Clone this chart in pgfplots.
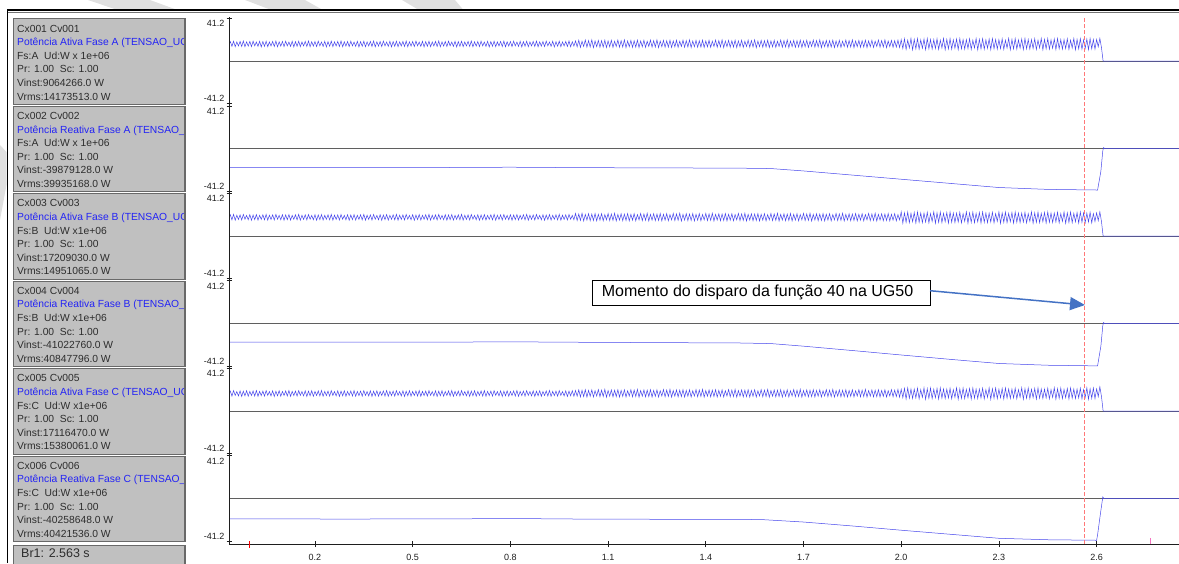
\documentclass[border=0pt]{standalone}
\usepackage{fontspec}
\setmainfont{Liberation Sans}
\usepackage{pgfplots}
\usepackage{pgfplotstable}
\pgfplotsset{compat=1.18}
\usetikzlibrary{arrows.meta}

\definecolor{trc}{RGB}{70,70,235}
\definecolor{zlc}{RGB}{95,95,95}
\definecolor{axcol}{RGB}{30,30,30}
\definecolor{boxgray}{RGB}{192,192,192}
\definecolor{boxdark}{RGB}{105,105,105}
\definecolor{bluetxt}{RGB}{35,35,245}
\definecolor{txtc}{RGB}{45,45,45}
\definecolor{reddash}{RGB}{255,120,120}
\definecolor{arrowc}{RGB}{68,114,196}
\definecolor{wm}{RGB}{224,224,224}

% time in ms; active power (MW) of phases A, B, C
\pgfplotstableread{
t a b c
-64 16.0 17.5 16.3
-60 18.9 20.6 19.3
-55 14.4 15.7 14.4
-50 19.3 21.0 19.7
-45 14.0 15.4 15.1
-40 18.6 20.2 18.8
-35 14.7 16.1 14.6
-30 19.1 20.5 19.5
-25 14.2 15.6 14.1
-20 19.5 20.9 19.2
-15 13.9 16.3 14.7
-10 18.7 20.0 19.6
-5 14.6 15.8 14.3
0 19.0 20.7 18.9
5 14.1 15.3 15.0
10 19.4 20.4 19.4
15 14.8 15.9 14.5
20 18.5 20.8 19.8
25 14.3 15.5 14.2
30 19.2 20.1 19.0
35 13.8 16.2 14.9
40 18.9 20.6 19.3
45 14.4 15.7 14.4
50 19.3 21.0 19.7
55 14.0 15.4 15.1
60 18.6 20.2 18.8
65 14.7 16.1 14.6
70 19.1 20.5 19.5
75 14.2 15.6 14.1
80 19.5 20.9 19.2
85 13.9 16.3 14.7
90 18.7 20.0 19.6
95 14.6 15.8 14.3
100 19.0 20.7 18.9
105 14.1 15.3 15.0
110 19.4 20.4 19.4
115 14.8 15.9 14.5
120 18.5 20.8 19.8
125 14.3 15.5 14.2
130 19.2 20.1 19.0
135 13.8 16.2 14.9
140 18.9 20.6 19.3
145 14.4 15.7 14.4
150 19.3 21.0 19.7
155 14.0 15.4 15.1
160 18.6 20.2 18.8
165 14.7 16.1 14.6
170 19.1 20.5 19.5
175 14.2 15.6 14.1
180 19.5 20.9 19.2
185 13.9 16.3 14.7
190 18.7 20.0 19.6
195 14.6 15.8 14.3
200 19.0 20.7 18.9
205 14.1 15.3 15.0
210 19.4 20.4 19.4
215 14.8 15.9 14.5
220 18.5 20.8 19.8
225 14.3 15.5 14.2
230 19.2 20.1 19.0
235 13.8 16.2 14.9
240 18.9 20.6 19.3
245 14.4 15.7 14.4
250 19.3 21.0 19.7
255 14.0 15.4 15.1
260 18.6 20.2 18.8
265 14.7 16.1 14.6
270 19.1 20.5 19.5
275 14.2 15.6 14.1
280 19.5 20.9 19.2
285 13.9 16.3 14.7
290 18.7 20.0 19.6
295 14.6 15.8 14.3
300 19.0 20.7 18.9
305 14.1 15.3 15.0
310 19.4 20.4 19.4
315 14.8 15.9 14.5
320 18.5 20.8 19.8
325 14.3 15.5 14.2
330 19.2 20.1 19.0
335 13.8 16.2 14.9
340 18.9 20.6 19.3
345 14.4 15.7 14.4
350 19.3 21.0 19.7
355 14.0 15.4 15.1
360 18.6 20.2 18.8
365 14.7 16.1 14.6
370 19.1 20.5 19.5
375 14.2 15.6 14.1
380 19.5 20.9 19.2
385 13.9 16.3 14.7
390 18.7 20.0 19.6
395 14.6 15.8 14.3
400 19.0 20.7 18.9
405 14.1 15.3 15.0
410 19.4 20.4 19.4
415 14.8 15.9 14.5
420 18.5 20.8 19.8
425 14.3 15.5 14.2
430 19.2 20.1 19.0
435 13.8 16.2 14.9
440 18.9 20.6 19.3
445 14.4 15.7 14.4
450 19.3 21.0 19.7
455 14.0 15.4 15.1
460 18.6 20.2 18.8
465 14.7 16.1 14.6
470 19.1 20.5 19.5
475 14.2 15.6 14.1
480 19.5 20.9 19.2
485 13.9 16.3 14.7
490 18.7 20.0 19.6
495 14.6 15.8 14.3
500 19.0 20.7 18.9
505 14.1 15.3 15.0
510 19.4 20.4 19.4
515 14.8 15.9 14.5
520 18.5 20.8 19.8
525 14.3 15.5 14.2
530 19.2 20.1 19.0
535 13.8 16.2 14.9
540 18.9 20.6 19.3
545 14.4 15.7 14.4
550 19.3 21.0 19.7
555 14.0 15.4 15.1
560 18.6 20.2 18.8
565 14.7 16.1 14.6
570 19.1 20.5 19.5
575 14.2 15.6 14.1
580 19.5 20.9 19.2
585 13.9 16.3 14.7
590 18.7 20.0 19.6
595 14.6 15.8 14.3
600 19.0 20.7 18.9
605 14.1 15.3 15.0
610 19.4 20.4 19.4
615 14.8 15.9 14.5
620 18.5 20.8 19.8
625 14.3 15.5 14.2
630 19.2 20.1 19.0
635 13.8 16.2 14.9
640 18.9 20.6 19.3
645 14.4 15.7 14.4
650 19.3 21.0 19.7
655 14.0 15.4 15.1
660 18.6 20.2 18.8
665 14.7 16.1 14.6
670 19.1 20.5 19.5
675 14.2 15.6 14.1
680 19.5 20.9 19.2
685 13.9 16.3 14.7
690 18.7 20.0 19.6
695 14.6 15.8 14.3
700 19.0 20.7 18.9
705 14.1 15.3 15.0
710 19.4 20.4 19.4
715 14.8 15.9 14.5
720 18.5 20.8 19.8
725 14.3 15.5 14.2
730 19.2 20.1 19.0
735 13.8 16.2 14.9
740 18.9 20.6 19.3
745 14.4 15.7 14.4
750 19.3 21.0 19.7
755 14.0 15.4 15.1
760 18.6 20.2 18.8
765 14.7 16.1 14.6
770 19.1 20.5 19.5
775 14.2 15.6 14.1
780 19.5 20.9 19.2
785 13.9 16.3 14.7
790 18.7 20.0 19.6
795 14.6 15.8 14.3
800 19.0 20.7 18.9
805 14.1 15.3 15.0
810 19.4 20.4 19.4
815 14.8 15.9 14.5
820 18.5 20.8 19.8
825 14.3 15.5 14.2
830 19.2 20.1 19.0
835 13.8 16.2 14.9
840 18.9 20.6 19.3
845 14.4 15.7 14.4
850 19.3 21.0 19.7
855 14.0 15.4 15.1
860 18.6 20.2 18.8
865 14.7 16.1 14.6
870 19.1 20.5 19.5
875 14.2 15.6 14.1
880 19.5 20.9 19.2
885 13.9 16.3 14.7
890 18.7 20.0 19.6
895 14.6 15.8 14.3
900 19.0 20.7 18.9
905 14.1 15.3 15.0
910 19.4 20.4 19.4
915 14.8 15.9 14.5
920 18.5 20.8 19.8
925 14.3 15.5 14.2
930 19.2 20.1 19.0
935 13.8 16.2 14.9
940 18.9 20.6 19.3
945 14.4 15.7 14.4
950 19.3 21.0 19.7
955 14.0 15.4 15.1
960 18.6 20.2 18.8
965 14.7 16.1 14.6
970 19.1 20.5 19.5
975 14.2 15.6 14.1
980 19.5 20.9 19.2
985 13.9 16.3 14.7
990 18.7 20.0 19.6
995 14.6 15.8 14.3
1000 19.6 21.9 19.8
1005 13.9 15.0 14.3
1010 20.2 21.4 20.4
1015 13.3 15.2 13.7
1020 19.3 22.1 20.1
1025 14.2 14.6 13.9
1030 20.4 21.0 20.6
1035 13.5 15.5 13.5
1040 19.9 21.6 19.9
1045 13.7 14.9 14.2
1050 20.6 21.3 20.5
1055 13.1 15.1 13.6
1060 19.5 21.8 19.6
1065 14.0 14.7 14.5
1070 20.1 21.1 20.7
1075 13.4 15.4 13.8
1080 19.8 21.7 20.2
1085 13.6 14.8 14.0
1090 20.3 20.8 20.9
1095 13.2 15.7 13.4
1100 19.6 21.9 19.8
1105 13.9 15.0 14.3
1110 20.2 21.4 20.4
1115 13.3 15.2 13.7
1120 19.3 22.1 20.1
1125 14.2 14.6 13.9
1130 20.4 21.0 20.6
1135 13.5 15.5 13.5
1140 19.9 21.6 19.9
1145 13.7 14.9 14.2
1150 20.6 21.3 20.5
1155 13.1 15.1 13.6
1160 19.5 21.8 19.6
1165 14.0 14.7 14.5
1170 20.1 21.1 20.7
1175 13.4 15.4 13.8
1180 19.8 21.7 20.2
1185 13.6 14.8 14.0
1190 20.3 20.8 20.9
1195 13.2 15.7 13.4
1200 19.6 21.9 19.8
1205 13.9 15.0 14.3
1210 20.2 21.4 20.4
1215 13.3 15.2 13.7
1220 19.3 22.1 20.1
1225 14.2 14.6 13.9
1230 20.4 21.0 20.6
1235 13.5 15.5 13.5
1240 19.9 21.6 19.9
1245 13.7 14.9 14.2
1250 20.6 21.3 20.5
1255 13.1 15.1 13.6
1260 19.5 21.8 19.6
1265 14.0 14.7 14.5
1270 20.1 21.1 20.7
1275 13.4 15.4 13.8
1280 19.8 21.7 20.2
1285 13.6 14.8 14.0
1290 20.3 20.8 20.9
1295 13.2 15.7 13.4
1300 19.6 21.9 19.8
1305 13.9 15.0 14.3
1310 20.2 21.4 20.4
1315 13.3 15.2 13.7
1320 19.3 22.1 20.1
1325 14.2 14.6 13.9
1330 20.4 21.0 20.6
1335 13.5 15.5 13.5
1340 19.9 21.6 19.9
1345 13.7 14.9 14.2
1350 20.6 21.3 20.5
1355 13.1 15.1 13.6
1360 19.5 21.8 19.6
1365 14.0 14.7 14.5
1370 20.1 21.1 20.7
1375 13.4 15.4 13.8
1380 19.8 21.7 20.2
1385 13.6 14.8 14.0
1390 20.3 20.8 20.9
1395 13.2 15.7 13.4
1400 19.6 21.9 19.8
1405 13.9 15.0 14.3
1410 20.2 21.4 20.4
1415 13.3 15.2 13.7
1420 19.3 22.1 20.1
1425 14.2 14.6 13.9
1430 20.4 21.0 20.6
1435 13.5 15.5 13.5
1440 19.9 21.6 19.9
1445 13.7 14.9 14.2
1450 20.6 21.3 20.5
1455 13.1 15.1 13.6
1460 19.5 21.8 19.6
1465 14.0 14.7 14.5
1470 20.1 21.1 20.7
1475 13.4 15.4 13.8
1480 19.8 21.7 20.2
1485 13.6 14.8 14.0
1490 20.3 20.8 20.9
1495 13.2 15.7 13.4
1500 19.6 21.9 19.8
1505 13.9 15.0 14.3
1510 20.2 21.4 20.4
1515 13.3 15.2 13.7
1520 19.3 22.1 20.1
1525 14.2 14.6 13.9
1530 20.4 21.0 20.6
1535 13.5 15.5 13.5
1540 19.9 21.6 19.9
1545 13.7 14.9 14.2
1550 20.6 21.3 20.5
1555 13.1 15.1 13.6
1560 19.5 21.8 19.6
1565 14.0 14.7 14.5
1570 20.1 21.1 20.7
1575 13.4 15.4 13.8
1580 19.8 21.7 20.2
1585 13.6 14.8 14.0
1590 20.3 20.8 20.9
1595 13.2 15.7 13.4
1600 19.6 21.9 19.8
1605 13.9 15.0 14.3
1610 20.2 21.4 20.4
1615 13.3 15.2 13.7
1620 19.3 22.1 20.1
1625 14.2 14.6 13.9
1630 20.4 21.0 20.6
1635 13.5 15.5 13.5
1640 19.9 21.6 19.9
1645 13.7 14.9 14.2
1650 20.6 21.3 20.5
1655 13.1 15.1 13.6
1660 19.5 21.8 19.6
1665 14.0 14.7 14.5
1670 20.1 21.1 20.7
1675 13.4 15.4 13.8
1680 19.8 21.7 20.2
1685 13.6 14.8 14.0
1690 20.3 20.8 20.9
1695 13.2 15.7 13.4
1700 19.6 21.9 19.8
1705 13.9 15.0 14.3
1710 20.2 21.4 20.4
1715 13.3 15.2 13.7
1720 19.3 22.1 20.1
1725 14.2 14.6 13.9
1730 20.4 21.0 20.6
1735 13.5 15.5 13.5
1740 19.9 21.6 19.9
1745 13.7 14.9 14.2
1750 20.6 21.3 20.5
1755 13.1 15.1 13.6
1760 19.5 21.8 19.6
1765 14.0 14.7 14.5
1770 20.1 21.1 20.7
1775 13.4 15.4 13.8
1780 19.8 21.7 20.2
1785 13.6 14.8 14.0
1790 20.3 20.8 20.9
1795 13.2 15.7 13.4
1800 19.6 21.9 19.8
1805 13.9 15.0 14.3
1810 20.2 21.4 20.4
1815 13.3 15.2 13.7
1820 19.3 22.1 20.1
1825 14.2 14.6 13.9
1830 20.4 21.0 20.6
1835 13.5 15.5 13.5
1840 19.9 21.6 19.9
1845 13.7 14.9 14.2
1850 20.6 21.3 20.5
1855 13.1 15.1 13.6
1860 19.5 21.8 19.6
1865 14.0 14.7 14.5
1870 20.1 21.1 20.7
1875 13.4 15.4 13.8
1880 19.8 21.7 20.2
1885 13.6 14.8 14.0
1890 20.3 20.8 20.9
1895 13.2 15.7 13.4
1900 19.6 21.9 19.8
1905 13.9 15.0 14.3
1910 20.2 21.4 20.4
1915 13.3 15.2 13.7
1920 19.3 22.1 20.1
1925 14.2 14.6 13.9
1930 20.4 21.0 20.6
1935 13.5 15.5 13.5
1940 19.9 21.6 19.9
1945 13.7 14.9 14.2
1950 20.6 21.3 20.5
1955 13.1 15.1 13.6
1960 19.5 21.8 19.6
1965 14.0 14.7 14.5
1970 20.1 21.1 20.7
1975 13.4 15.4 13.8
1980 19.8 21.7 20.2
1985 13.6 14.8 14.0
1990 20.3 20.8 20.9
1995 13.2 15.7 13.4
2000 20.8 23.4 21.0
2005 12.2 12.4 12.9
2010 21.6 22.5 21.8
2015 11.4 13.3 11.6
2020 20.3 23.2 22.3
2025 12.8 13.0 12.4
2030 22.0 22.0 21.3
2035 11.0 13.9 12.1
2040 21.1 22.8 21.2
2045 11.9 12.6 12.6
2050 21.8 23.3 22.0
2055 11.6 13.4 11.8
2060 20.6 22.3 20.7
2065 12.5 13.1 13.2
2070 21.4 22.2 22.4
2075 11.2 13.6 11.4
2080 21.9 23.0 21.5
2085 12.0 12.8 12.3
2090 20.9 21.7 22.2
2095 11.7 14.2 12.0
2100 20.8 23.4 21.0
2105 12.2 12.4 12.9
2110 21.6 22.5 21.8
2115 11.4 13.3 11.6
2120 20.3 23.2 22.3
2125 12.8 13.0 12.4
2130 22.0 22.0 21.3
2135 11.0 13.9 12.1
2140 21.1 22.8 21.2
2145 11.9 12.6 12.6
2150 21.8 23.3 22.0
2155 11.6 13.4 11.8
2160 20.6 22.3 20.7
2165 12.5 13.1 13.2
2170 21.4 22.2 22.4
2175 11.2 13.6 11.4
2180 21.9 23.0 21.5
2185 12.0 12.8 12.3
2190 20.9 21.7 22.2
2195 11.7 14.2 12.0
2200 20.8 23.4 21.0
2205 12.2 12.4 12.9
2210 21.6 22.5 21.8
2215 11.4 13.3 11.6
2220 20.3 23.2 22.3
2225 12.8 13.0 12.4
2230 22.0 22.0 21.3
2235 11.0 13.9 12.1
2240 21.1 22.8 21.2
2245 11.9 12.6 12.6
2250 21.8 23.3 22.0
2255 11.6 13.4 11.8
2260 20.6 22.3 20.7
2265 12.5 13.1 13.2
2270 21.4 22.2 22.4
2275 11.2 13.6 11.4
2280 21.9 23.0 21.5
2285 12.0 12.8 12.3
2290 20.9 21.7 22.2
2295 11.7 14.2 12.0
2300 20.8 23.4 21.0
2305 12.2 12.4 12.9
2310 21.6 22.5 21.8
2315 11.4 13.3 11.6
2320 20.3 23.2 22.3
2325 12.8 13.0 12.4
2330 22.0 22.0 21.3
2335 11.0 13.9 12.1
2340 21.1 22.8 21.2
2345 11.9 12.6 12.6
2350 21.8 23.3 22.0
2355 11.6 13.4 11.8
2360 20.6 22.3 20.7
2365 12.5 13.1 13.2
2370 21.4 22.2 22.4
2375 11.2 13.6 11.4
2380 21.9 23.0 21.5
2385 12.0 12.8 12.3
2390 20.9 21.7 22.2
2395 11.7 14.2 12.0
2400 20.8 23.4 21.0
2405 12.2 12.4 12.9
2410 21.6 22.5 21.8
2415 11.4 13.3 11.6
2420 20.3 23.2 22.3
2425 12.8 13.0 12.4
2430 22.0 22.0 21.3
2435 11.0 13.9 12.1
2440 21.1 22.8 21.2
2445 11.9 12.6 12.6
2450 21.8 23.3 22.0
2455 11.6 13.4 11.8
2460 20.6 22.3 20.7
2465 12.5 13.1 13.2
2470 21.4 22.2 22.4
2475 11.2 13.6 11.4
2480 21.9 23.0 21.5
2485 12.0 12.8 12.3
2490 20.9 21.7 22.2
2495 11.7 14.2 12.0
2500 20.8 23.4 21.0
2505 12.2 12.4 12.9
2510 21.6 22.5 21.8
2515 11.4 13.3 11.6
2520 20.3 23.2 22.3
2525 12.8 13.0 12.4
2530 22.0 22.0 21.3
2535 11.0 13.9 12.1
2540 21.1 22.8 21.2
2545 11.9 12.6 12.6
2550 21.8 23.3 22.0
2555 11.6 13.4 11.8
2560 20.6 22.3 20.7
2565 12.5 13.1 13.2
2570 21.4 22.2 22.4
2575 11.2 13.6 11.4
2580 21.9 23.0 21.5
2585 12.0 12.8 12.3
2590 20.9 21.7 22.2
2595 11.7 14.2 12.0
2600 21.0 22.4 21.4
2605 14.0 15.0 14.0
2610 22.0 23.5 23.4
2615 13.0 14.0 14.0
2620 0 0 0
2853 0 0 0
}\act

\pgfplotsset{
  chan/.style={scale only axis, width=950pt, height=87.46pt,
    xmin=-64, xmax=2853, ymin=-42.2, ymax=42.2,
    axis x line=none, axis y line=left,
    axis line style={-, draw=axcol, line width=0.8pt},
    ytick={-41.2,41.2}, yticklabels={{},{}},
    tick align=center, major tick length=5pt,
    tick style={axcol, line width=0.8pt},
    clip mode=individual, anchor=north west},
  zl/.style={zlc, line width=0.8pt, mark=none},
  tr/.style={trc, line width=0.5pt, mark=none},
}
\newcommand{\ylabs}{%
  \node[anchor=north east, inner sep=0pt, font=\fontsize{9}{10}\selectfont, text=axcol]
    at ([xshift=-4.5pt,yshift=-2pt]axis cs:-64,41.2) {41.2};
  \node[anchor=south east, inner sep=0pt, font=\fontsize{9}{10}\selectfont, text=axcol]
    at ([xshift=-4.5pt,yshift=1.8pt]axis cs:-64,-41.2) {-41.2};
}
\tikzset{txt/.style={anchor=base west, inner sep=0pt, font=\fontsize{10.3}{12}\selectfont, text=txtc}}
\newcommand{\chbox}[7]{%
  \pgfmathsetmacro{\bt}{-#1}%
  \pgfmathsetmacro{\bb}{-#1-85.5}%
  \draw[boxdark, line width=1.2pt, fill=boxgray] (13.3pt,\bt pt) rectangle (185.5pt,\bb pt);
  \draw[boxdark, line width=2.2pt] (185pt,\bt pt) -- (185pt,\bb pt);
  \begin{scope}
    \clip (14pt,\bt pt) rectangle (183.8pt,\bb pt);
    \node[txt] at (17pt,{\bt pt-13.2pt}) {#2};
    \node[txt, text=bluetxt] at (17pt,{\bt pt-26.8pt}) {#3};
    \node[txt] at (17pt,{\bt pt-40.4pt}) {#4};
    \node[txt] at (17pt,{\bt pt-54.0pt}) {#5};
    \node[txt] at (17pt,{\bt pt-67.6pt}) {#6};
    \node[txt] at (17pt,{\bt pt-81.2pt}) {#7};
  \end{scope}}

\begin{document}
\begin{tikzpicture}
\path[use as bounding box] (0pt,0pt) rectangle (1179pt,-563pt);
% watermark stripes
\fill[wm] (88pt,0pt) -- (150pt,0pt) -- (176pt,-9.5pt) -- (116pt,-9.5pt) -- cycle;
\fill[wm] (245pt,0pt) -- (305pt,0pt) -- (322pt,-9.5pt) -- (270pt,-9.5pt) -- cycle;
\fill[wm] (402pt,0pt) -- (455pt,0pt) -- (463pt,-9.5pt) -- (418pt,-9.5pt) -- cycle;
\fill[wm] (0pt,-145pt) -- (6.5pt,-152pt) -- (6.5pt,-185pt) -- (0pt,-220pt) -- cycle;
% frame
\draw[black, line width=2pt] (7pt,-10.3pt) -- (1179pt,-10.3pt);
\draw[black!55, line width=0.8pt] (7pt,-12.2pt) -- (1179pt,-12.2pt);
\draw[black, line width=1.5pt] (7.3pt,-9.3pt) -- (7.3pt,-563pt);

% left boxes
\chbox{18.8}{Cx001 Cv001}{Potência Ativa Fase A (TENSAO\_UG50)}{Fs:A\ \ Ud:W x 1e+06}{Pr: 1.00\ \ Sc: 1.00}{Vinst:9064266.0 W}{Vrms:14173513.0 W}
\chbox{106.26}{Cx002 Cv002}{Potência Reativa Fase A (TENSAO\_UG50)}{Fs:A\ \ Ud:W x 1e+06}{Pr: 1.00\ \ Sc: 1.00}{Vinst:-39879128.0 W}{Vrms:39935168.0 W}
\chbox{193.72}{Cx003 Cv003}{Potência Ativa Fase B (TENSAO\_UG50)}{Fs:B\ \ Ud:W x1e+06}{Pr: 1.00\ \ Sc: 1.00}{Vinst:17209030.0 W}{Vrms:14951065.0 W}
\chbox{281.18}{Cx004 Cv004}{Potência Reativa Fase B (TENSAO\_UG50)}{Fs:B\ \ Ud:W x1e+06}{Pr: 1.00\ \ Sc: 1.00}{Vinst:-41022760.0 W}{Vrms:40847796.0 W}
\chbox{368.64}{Cx005 Cv005}{Potência Ativa Fase C (TENSAO\_UG50)}{Fs:C\ \ Ud:W x1e+06}{Pr: 1.00\ \ Sc: 1.00}{Vinst:17116470.0 W}{Vrms:15380061.0 W}
\chbox{456.1}{Cx006 Cv006}{Potência Reativa Fase C (TENSAO\_UG50)}{Fs:C\ \ Ud:W x1e+06}{Pr: 1.00\ \ Sc: 1.00}{Vinst:-40258648.0 W}{Vrms:40421536.0 W}
\draw[boxdark, line width=1.2pt, fill=boxgray] (13.3pt,-545.6pt) rectangle (185.5pt,-575pt);
\draw[boxdark, line width=2.2pt] (185pt,-545.6pt) -- (185pt,-575pt);
\node[anchor=base west, inner sep=0pt, font=\fontsize{12.5}{14}\selectfont, text=txtc] at (21pt,-557.5pt) {Br1: 2.563 s};

% channel 1
\begin{axis}[chan, at={(229pt,-17.47pt)}]
\addplot[zl] coordinates {(-64,0) (2853,0)};
\addplot[tr] table[x=t,y=a]{\act};
\ylabs
\end{axis}
% channel 2
\begin{axis}[chan, at={(229pt,-104.93pt)}]
\addplot[zl] coordinates {(-64,0) (2853,0)};
\addplot[tr] coordinates {(-64,-18.2) (300,-18.3) (600,-18.2) (800,-17.9) (1000,-18.3) (1200,-18.5) (1500,-18.8) (1600,-19.2) (1700,-21.5) (1850,-25.5) (2000,-29.5) (2150,-33.5) (2300,-37.5) (2450,-39.3) (2600,-39.9) (2603,-39.9) (2613,-22) (2619,-2) (2621,1) (2625,0) (2853,0)};
\ylabs
\end{axis}
% channel 3
\begin{axis}[chan, at={(229pt,-192.39pt)}]
\addplot[zl] coordinates {(-64,0) (2853,0)};
\addplot[tr] table[x=t,y=b]{\act};
\ylabs
\end{axis}
% channel 4
\begin{axis}[chan, at={(229pt,-279.85pt)}]
\addplot[zl] coordinates {(-64,0) (2853,0)};
\addplot[tr] coordinates {(-64,-17.8) (300,-17.9) (600,-17.9) (800,-17.6) (1000,-18.0) (1200,-18.3) (1500,-18.7) (1600,-19.3) (1700,-21.8) (1850,-26) (2000,-30.3) (2150,-34.5) (2300,-38.5) (2450,-40.2) (2600,-40.8) (2603,-40.8) (2613,-22) (2619,-2) (2621,1) (2625,0) (2853,0)};
\ylabs
\end{axis}
% channel 5
\begin{axis}[chan, at={(229pt,-367.31pt)}]
\addplot[zl] coordinates {(-64,0) (2853,0)};
\addplot[tr] table[x=t,y=c]{\act};
\ylabs
\end{axis}
% channel 6
\begin{axis}[chan, at={(229pt,-454.77pt)}]
\addplot[zl] coordinates {(-64,0) (2853,0)};
\addplot[tr] coordinates {(-64,-19.7) (300,-19.8) (600,-19.7) (800,-19.3) (1000,-19.8) (1200,-20.0) (1500,-20.2) (1570,-20.3) (1700,-22.7) (1850,-26.5) (2000,-30.6) (2150,-34.5) (2300,-38.4) (2450,-39.8) (2600,-40.3) (2603,-35) (2612,-14) (2619,1.5) (2622,0) (2853,0)};
\ylabs
\end{axis}

% time axis
\begin{axis}[scale only axis, width=950pt, height=526.5pt, at={(229pt,-544pt)}, anchor=south west,
  xmin=-64, xmax=2853, ymin=0, ymax=1,
  axis x line=bottom, axis y line=left,
  axis line style={-, draw=axcol, line width=0.8pt},
  ytick=\empty,
  xtick={200,500,800,1100,1400,1700,2000,2300,2600},
  xticklabels={0.2,0.5,0.8,1.1,1.4,1.7,2.0,2.3,2.6},
  tick align=center, major tick length=6pt,
  tick style={axcol, line width=0.8pt},
  xticklabel style={font=\fontsize{9}{10}\selectfont, text=axcol, yshift=-4pt},
  clip=false]
\draw[reddash, line width=0.8pt, dash pattern=on 4pt off 2pt] (axis cs:2563,0) -- (axis cs:2563,0.9985);
\draw[red, line width=0.9pt] (axis cs:0,0) ++(0pt,-3.5pt) -- ++(0pt,7pt);
\draw[magenta!55, line width=0.9pt] (axis cs:2766,0) -- ++(0pt,6pt);
\end{axis}

% annotation
\draw[black, line width=0.8pt, fill=white] (592.7pt,-280pt) rectangle (930pt,-305.7pt);
\node[anchor=base west, inner sep=0pt, font=\fontsize{16}{18}\selectfont] at (601.7pt,-296.7pt) {Momento do disparo da função 40 na UG50};
\draw[arrowc, line width=1.5pt, -{Triangle[length=15pt,width=13pt]}] (930pt,-290.7pt) -- (1085pt,-305pt);
\end{tikzpicture}
\end{document}
